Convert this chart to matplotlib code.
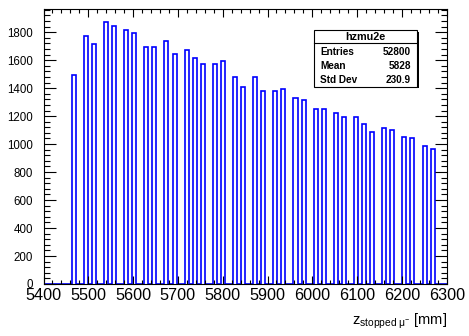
import matplotlib
matplotlib.use("Agg")
import matplotlib.pyplot as plt
import numpy as np
from matplotlib.patches import Rectangle
from matplotlib.lines import Line2D
from matplotlib.ticker import MultipleLocator

plt.rcParams['font.family'] = ['Liberation Sans', 'DejaVu Sans']
plt.rcParams['mathtext.fontset'] = 'custom'
plt.rcParams['mathtext.rm'] = 'Liberation Sans'
plt.rcParams['mathtext.it'] = 'Liberation Sans:italic'

# histogram hzmu2e: 100 bins of 9 mm between 5400 and 6300
x_min, x_max, n_bins = 5400, 6300, 100

# filled bins (stopping-target foils), bin centres in mm, and their contents
foil_z = [5467.5, 5494.5, 5512.5, 5539.5, 5557.5, 5584.5, 5602.5, 5629.5,
          5647.5, 5674.5, 5692.5, 5719.5, 5737.5, 5755.5, 5782.5, 5800.5,
          5827.5, 5845.5, 5872.5, 5890.5, 5917.5, 5935.5, 5962.5, 5980.5,
          6007.5, 6025.5, 6052.5, 6070.5, 6097.5, 6115.5, 6133.5, 6160.5,
          6178.5, 6205.5, 6223.5, 6250.5, 6268.5]
foil_counts = [1497, 1772, 1712, 1872, 1842, 1816, 1796, 1692,
               1692, 1737, 1647, 1671, 1612, 1572, 1572, 1592,
               1483, 1408, 1483, 1378, 1378, 1397, 1332, 1312,
               1248, 1248, 1222, 1193, 1193, 1142, 1088, 1118,
               1098, 1052, 1042, 988, 968]

stats_name = "hzmu2e"
stats_rows = [("Entries", "52800"), ("Mean", "5828"), ("Std Dev", "230.9")]

edges = np.linspace(x_min, x_max, n_bins + 1)
counts, _ = np.histogram(foil_z, bins=edges, weights=foil_counts)

W, H = 469, 336
fig = plt.figure(figsize=(W / 100, H / 100), dpi=100)
ax = fig.add_axes([43.5 / W, 1 - 284 / H, (446.7 - 43.5) / W, (284 - 9) / H])

ax.stairs(counts, edges, color=(0, 0, 1), lw=1.2, baseline=0)

ax.set_xlim(x_min, x_max)
ax.set_ylim(0, 1.05 * max(foil_counts))

ax.xaxis.set_major_locator(MultipleLocator(100))
ax.xaxis.set_minor_locator(MultipleLocator(20))
ax.yaxis.set_major_locator(MultipleLocator(200))
ax.yaxis.set_minor_locator(MultipleLocator(40))

ax.tick_params(which='both', direction='in', top=True, right=True, width=0.8)
ax.tick_params(axis='x', which='major', length=5.8, labelsize=11.7, pad=3)
ax.tick_params(axis='x', which='minor', length=2.9)
ax.tick_params(axis='y', which='major', length=8.5, labelsize=8.3, pad=7.5)
ax.tick_params(axis='y', which='minor', length=4.3)
for s in ax.spines.values():
    s.set_linewidth(0.8)

fig.text(446.7 / W, 1 - 325 / H,
         r'$\mathrm{z_{stopped\ \mu^{-}}}$ [mm]',
         ha='right', va='baseline', fontsize=10.5)

# stats box
bx0, bx1 = 314.3 / W, 417.3 / W
by0, by1 = 1 - 86.7 / H, 1 - 30.3 / H
fig.add_artist(Rectangle((bx0 + 1.5 / W, by0 - 1.5 / H), bx1 - bx0, by1 - by0,
                         transform=fig.transFigure, facecolor='black',
                         edgecolor='none', zorder=5))
fig.add_artist(Rectangle((bx0, by0), bx1 - bx0, by1 - by0,
                         transform=fig.transFigure, facecolor='white',
                         edgecolor='black', lw=0.8, zorder=6))
sep = 1 - 43.3 / H
fig.add_artist(Line2D([bx0, bx1], [sep, sep], transform=fig.transFigure,
                      color='black', lw=0.8, zorder=7))
fig.text((bx0 + bx1) / 2, 1 - 36.8 / H, stats_name, ha='center', va='center',
         fontsize=7.8, fontweight='bold', zorder=8)
for i, (name, val) in enumerate(stats_rows):
    yy = 1 - (51.7 + 14.2 * i) / H
    fig.text(320 / W, yy, name, ha='left', va='center', fontsize=7.2,
             fontweight='bold', zorder=8)
    fig.text(411 / W, yy, val, ha='right', va='center', fontsize=7.2,
             fontweight='bold', zorder=8)

fig.savefig("out.png", dpi=100)
